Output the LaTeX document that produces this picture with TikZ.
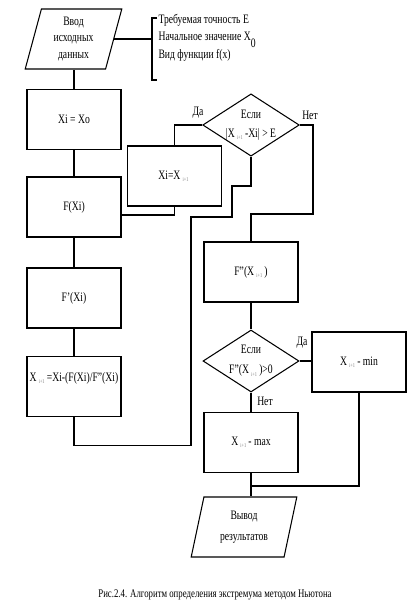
\documentclass[tikz,border=0pt]{standalone}
\usepackage{fontspec}
\setmainfont{Liberation Serif}[FakeStretch=0.75]
\usetikzlibrary{shapes.geometric}
% tiny index i+1
\newcommand{\ipo}{\,\raisebox{-2pt}{\fontsize{5}{5}\selectfont\color{gray}i+1}\,}

\begin{document}
\begin{tikzpicture}[x=0.03cm, y=-0.03cm, line width=0.9pt]
% estilos
\tikzset{
  block/.style={rectangle, draw, minimum width=2.82cm, minimum height=1.8cm, inner sep=1pt, font=\fontsize{11}{13}\selectfont},
  decision/.style={diamond, draw, minimum width=2.88cm, minimum height=1.86cm, inner sep=0pt, aspect=1.55, align=center, font=\fontsize{11}{13}\selectfont},
  io/.style={trapezium, trapezium left angle=77, trapezium right angle=103, trapezium stretches=true, draw, minimum width=2.91cm, minimum height=1.8cm, inner sep=1pt, align=center, font=\fontsize{11}{13}\selectfont},
  lbl/.style={draw=none, fill=none, inner sep=0pt, font=\fontsize{11}{13}\selectfont}
}
\useasboundingbox (0,0) rectangle (420,610);

\node[io] (in) at (73.5,39) {Ввод\\[1pt] исходных\\[1pt] данных};
\node[block] (b1) at (74,119.5) {Xi = Xo};
\node[block] (b2) at (74,207) {F(Xi)};
\node[block] (b3) at (74,298) {F'(Xi)};
\node[block, text depth=17pt] (b4) at (74,386.5) {X\ipo=Xi-(F(Xi)/F''(Xi)};
\node[decision] (d1) at (251,125) {Если\\[3pt] |X\ipo-Xi| > E};
\node[block] (b5) at (174.5,176) {Xi=X\ipo};
\node[block] (b6) at (251,272) {F''(X\ipo)};
\node[decision] (d2) at (251,361) {Если\\[4pt] F''(X\ipo)>0};
\node[block] (b7) at (359,362) {X\ipo - min};
\node[block] (b8) at (251,442.5) {X\ipo - max};
\node[io, minimum width=3.18cm] (out) at (244,527) {Вывод\\[5pt] результатов};

% comentario de datos
\node[lbl, anchor=west, align=left] (notes) at (158,38) {Требуемая точность E\\[1pt] Начальное значение X\raisebox{-6pt}{0}\\[1pt] Вид функции f(x)};
\draw (157,18) -- (152,18) coordinate (br1) -- (152,80) -- (157,80);
\draw (in.east) -- (in.east -| br1);

\coordinate (j1) at (191,217);
\coordinate (j2) at (232,186);
\coordinate (k1) at (313,214);
\coordinate (m) at (251,486);

\draw (b1.north) -- (b1.north |- in.south);
\draw (b1) -- (b2);
\draw (b2) -- (b3);
\draw (b3) -- (b4);
\draw (b4.south) -- ++(0,28) -| (j1) -| (j2) -| (d1.south);
\draw (d1.west) -| (b5.north);
\draw (b5.south) |- ([yshift=-0.24cm]b2.east);
\draw (d1.east) -| (k1) -| (b6.north);
\draw (b6) -- (d2);
\draw (d2.east) -- (d2.east -| b7.west);
\draw (d2) -- (b8);
\draw (b8.south) -- (b8.south |- out.north);
\draw (b7.south) |- (m);

\node[lbl] (y1) at (198,113) {Да};
\node[lbl] (n1) at (310,115) {Нет};
\node[lbl] (y2) at (302,343) {Да};
\node[lbl] (n2) at (265,401) {Нет};

\node[lbl, font=\fontsize{10}{12}\selectfont] (cap) at (215,595) {Рис.2.4. Алгоритм определения экстремума методом Ньютона};
\end{tikzpicture}
\end{document}
